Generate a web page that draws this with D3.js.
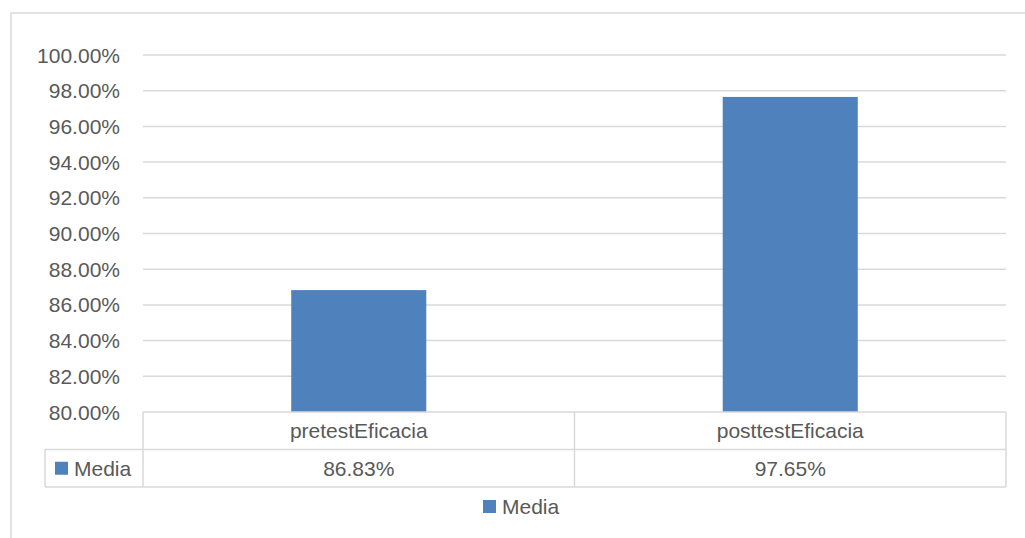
<!DOCTYPE html>
<html>
<head>
<meta charset="utf-8">
<script src="https://cdn.jsdelivr.net/npm/d3@7"></script>
<style>
  body { margin: 0; background: #fff; }
  svg { display: block; font-family: "Liberation Sans", Arial, sans-serif; }
  .lbl { fill: #595959; font-size: 21px; }
</style>
</head>
<body>
<svg id="chart" width="1025" height="538"></svg>
<script>
const categories = ["pretestEficacia", "posttestEficacia"];
const seriesName = "Media";
const values = [0.8683, 0.9765];
const yTicks = [0.80, 0.82, 0.84, 0.86, 0.88, 0.90, 0.92, 0.94, 0.96, 0.98, 1.00];

const svg = d3.select("#chart");
const grey = "#d9d9d9", barColor = "#4f81bd";
const plot = {left: 143, right: 1006, top: 55, bottom: 412};
const rowH = 37.5;

//outer chart frame (only top and left edges visible)
svg.append("path")
    .attr("d", "M11,545 V13 H1030")
    .attr("fill", "none").attr("stroke", grey).attr("stroke-width", 1.5);

const x = d3.scaleBand().domain(categories).range([plot.left, plot.right]).padding(0);
const y = d3.scaleLinear().domain([0.8, 1.0]).range([plot.bottom, plot.top]);
const fmt = d3.format(".2%");

//gridlines
svg.append("g").selectAll("line").data(yTicks.slice(1)).join("line")
    .attr("x1", plot.left).attr("x2", plot.right)
    .attr("y1", d => y(d)).attr("y2", d => y(d))
    .attr("stroke", grey).attr("stroke-width", 1.5);

//tick labels
svg.append("g").selectAll("text").data(yTicks).join("text")
    .attr("class", "lbl")
    .attr("x", 120).attr("y", d => y(d))
    .attr("text-anchor", "end").attr("dominant-baseline", "central")
    .text(d => fmt(d));

//bars
const bw = x.bandwidth() * 0.313;
svg.append("g").selectAll("rect").data(values).join("rect")
    .attr("x", (d, i) => x(categories[i]) + (x.bandwidth() - bw) / 2)
    .attr("width", bw)
    .attr("y", d => y(d))
    .attr("height", d => y(0.8) - y(d))
    .attr("fill", barColor);

//data table
const t = svg.append("g").attr("fill", "none").attr("stroke", grey).attr("stroke-width", 1.5);
const r1 = plot.bottom, r2 = plot.bottom + rowH, r3 = plot.bottom + 2 * rowH;
t.append("line").attr("x1", plot.left).attr("x2", plot.right).attr("y1", r1).attr("y2", r1);
t.append("line").attr("x1", 45).attr("x2", plot.right).attr("y1", r2).attr("y2", r2);
t.append("line").attr("x1", 45).attr("x2", plot.right).attr("y1", r3).attr("y2", r3);
t.append("line").attr("x1", 45).attr("x2", 45).attr("y1", r2).attr("y2", r3);
t.selectAll(".v").data([plot.left, x(categories[1]), plot.right]).join("line")
    .attr("x1", d => d).attr("x2", d => d).attr("y1", r1).attr("y2", r3);

svg.append("g").selectAll("text").data(categories).join("text")
    .attr("class", "lbl")
    .attr("x", d => x(d) + x.bandwidth() / 2).attr("y", (r1 + r2) / 2)
    .attr("text-anchor", "middle").attr("dominant-baseline", "central")
    .text(d => d);

svg.append("g").selectAll("text").data(values).join("text")
    .attr("class", "lbl")
    .attr("x", (d, i) => x(categories[i]) + x.bandwidth() / 2).attr("y", (r2 + r3) / 2)
    .attr("text-anchor", "middle").attr("dominant-baseline", "central")
    .text(d => fmt(d));

//legend key inside table
svg.append("rect").attr("x", 55).attr("y", (r2 + r3) / 2 - 6.5).attr("width", 13).attr("height", 13).attr("fill", barColor);
svg.append("text").attr("class", "lbl").attr("x", 74).attr("y", (r2 + r3) / 2)
    .attr("dominant-baseline", "central").text(seriesName);

//bottom legend
svg.append("rect").attr("x", 483).attr("y", 500).attr("width", 13).attr("height", 13).attr("fill", barColor);
svg.append("text").attr("class", "lbl").attr("x", 502).attr("y", 506.5)
    .attr("dominant-baseline", "central").text(seriesName);
</script>
</body>
</html>
